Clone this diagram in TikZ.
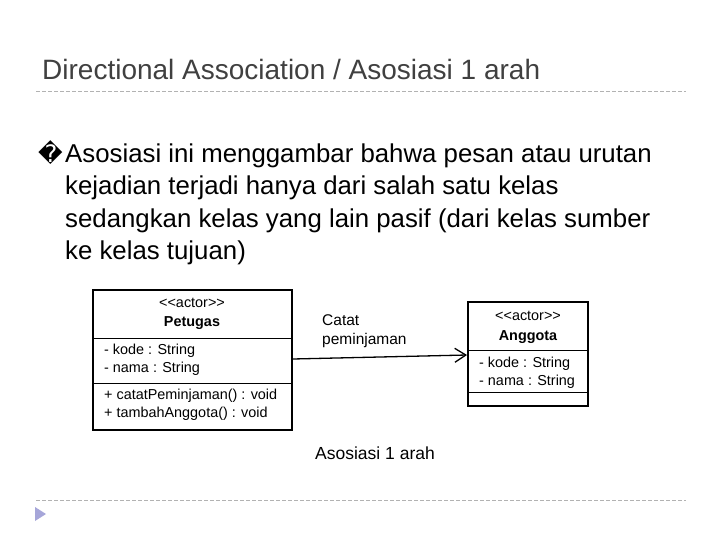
\documentclass[tikz,border=0pt]{standalone}
\usepackage{fontspec}
\setmainfont{Liberation Sans}
\newfontfamily\djvfont{DejaVu Sans}
\usetikzlibrary{arrows.meta}
\begin{document}
\begin{tikzpicture}[x=1pt,y=-1pt,
 sep/.style={draw=gray!60,dashed,dash pattern=on 4pt off 2pt,line width=0.8pt},
 body/.style={anchor=base west,inner sep=0pt,font=\fontsize{25.8}{26}\selectfont},
 uml/.style={draw,line width=2pt},
 small/.style={font=\fontsize{14.4}{14}\selectfont,inner sep=0pt}]
\useasboundingbox (0,0) rectangle (720,540);
\node[anchor=base west,inner sep=0pt,font=\fontsize{28}{28}\selectfont,text=black!75] (title) at (42,80) {Directional Association / Asosiasi 1 arah};
\coordinate (s1) at (36,91); \coordinate (s2) at (686,91);
\draw[sep] (s1) -- (s2);
\node[body] (bul) at (38,163) {\djvfont\fontsize{24}{24}\selectfont\char"FFFD};
\node[body] (l1) at (65,163) {Asosiasi ini menggambar bahwa pesan atau urutan};
\node[body] (l2) at (65,195) {kejadian terjadi hanya dari salah satu kelas};
\node[body] (l3) at (65,227) {sedangkan kelas yang lain pasif (dari kelas sumber};
\node[body] (l4) at (65,259) {ke kelas tujuan)};
% Petugas
\draw[uml] (93,290) rectangle (292,430);
\draw[line width=1pt] (93,338) -- (292,338) (93,383) -- (292,383);
\node[small] (p1) at (192,303) {<{}<actor>{}>};
\node[small,font=\fontsize{14.4}{14}\selectfont\bfseries] (p2) at (192,323) {Petugas};
\node[small,anchor=west] (p3) at (104,351) {- kode : String};
\node[small,anchor=west] (p4) at (104,369) {- nama : String};
\node[small,anchor=west] (p5) at (104,396) {+ catatPeminjaman() : void};
\node[small,anchor=west] (p6) at (104,414) {+ tambahAnggota() : void};
% Anggota
\draw[uml] (468,302) rectangle (588,406);
\draw[line width=1pt] (468,350) -- (588,350) (468,392) -- (588,392);
\node[small] (a1) at (528,316) {<{}<actor>{}>};
\node[small,font=\fontsize{14.4}{14}\selectfont\bfseries] (a2) at (528,337) {Anggota};
\node[small,anchor=west] (a3) at (479,364) {- kode : String};
\node[small,anchor=west] (a4) at (479,382) {- nama : String};
\coordinate (e1) at (293,359); \coordinate (e2) at (467,355);
\draw[line width=1.3pt,-{Straight Barb[length=11pt,width=14pt]}] (e1) -- (e2);
\node[small,font=\fontsize{15.5}{15}\selectfont,anchor=west,align=left] (lab) at (322,331) {Catat\\[4pt]peminjaman};
\node[font=\fontsize{17.5}{18}\selectfont,inner sep=0pt] (cap) at (375,453) {Asosiasi 1 arah};
\coordinate (b1) at (36,500); \coordinate (b2) at (686,500);
\draw[sep] (b1) -- (b2);
\fill[gray!60!blue!50] (35,507) -- (46,514) -- (35,521) -- cycle;
\end{tikzpicture}
\end{document}
